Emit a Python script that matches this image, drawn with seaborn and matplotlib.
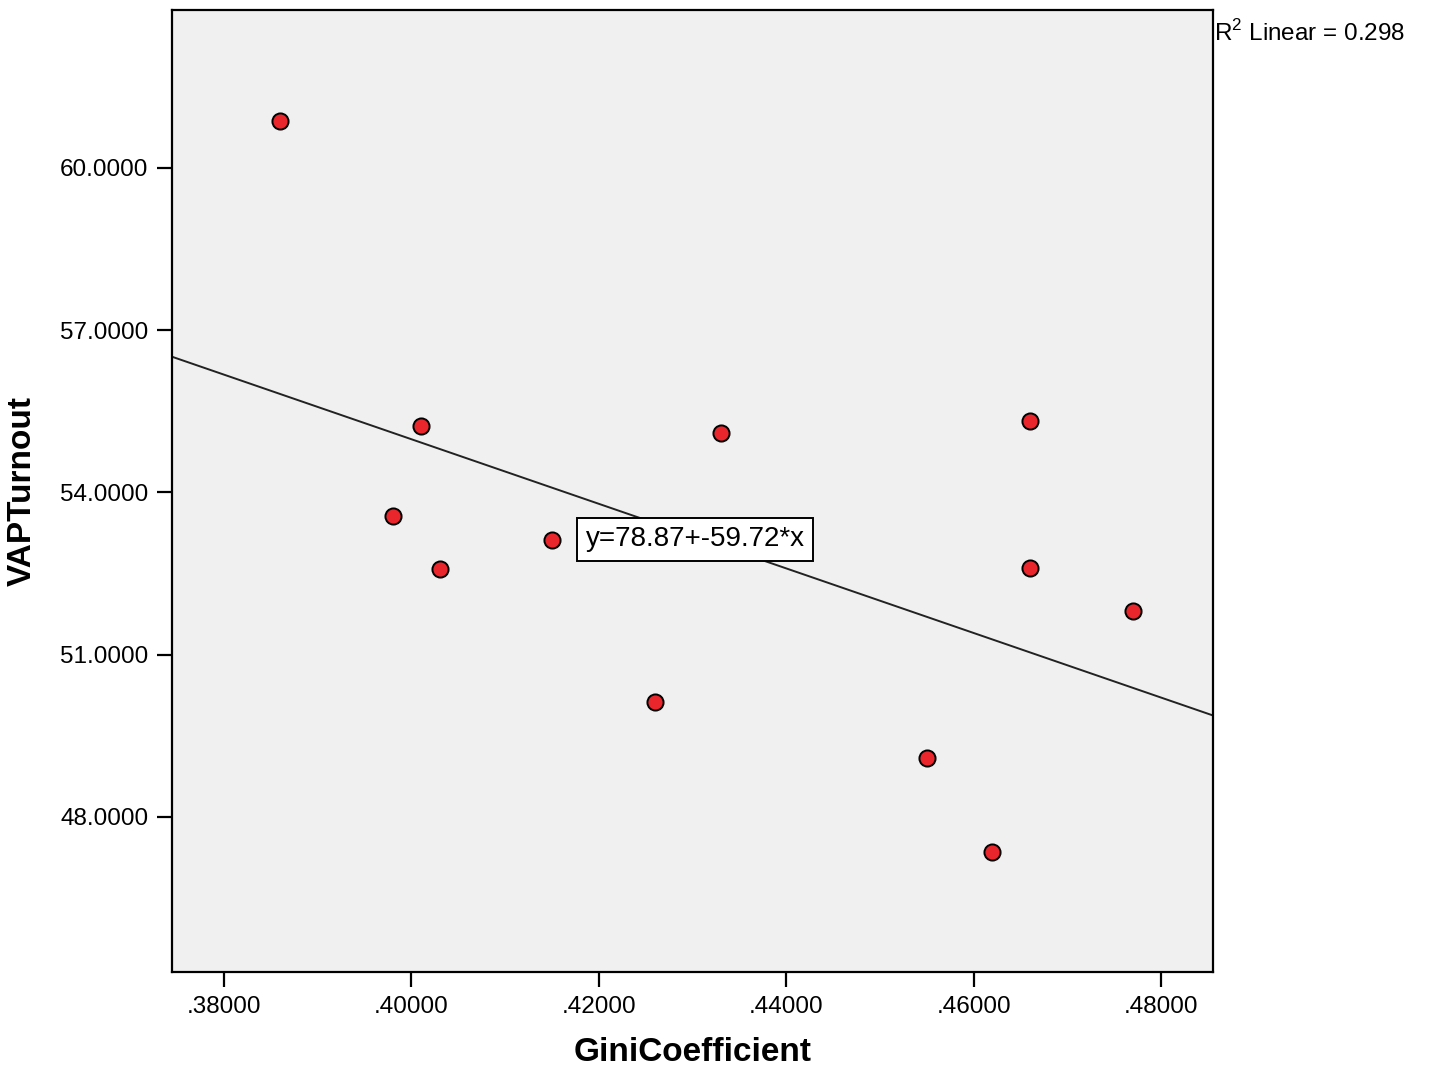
import matplotlib
matplotlib.use("Agg")
import matplotlib.pyplot as plt
import matplotlib.ticker as mticker
import numpy as np
import pandas as pd
import seaborn as sns

# Data
gini = [0.386, 0.401, 0.398, 0.403, 0.415, 0.426, 0.433, 0.466, 0.466, 0.477, 0.455, 0.462]
turnout = [60.87, 55.23, 53.57, 52.59, 53.12, 50.13, 55.10, 55.32, 52.60, 51.81, 49.09, 47.35]
intercept = 78.87
slope = -59.72
r2 = 0.298
xticks = [0.38, 0.40, 0.42, 0.44, 0.46, 0.48]
yticks = [48, 51, 54, 57, 60]

df = pd.DataFrame({"GiniCoefficient": gini, "VAPTurnout": turnout})

sns.set_style("ticks", {"axes.facecolor": "#f0f0f0", "axes.edgecolor": "black",
                        "text.color": "black", "axes.labelcolor": "black"})
plt.rcParams["font.family"] = ["Liberation Sans", "DejaVu Sans"]
plt.rcParams["mathtext.fontset"] = "custom"
plt.rcParams["mathtext.rm"] = "Liberation Sans"

fig = plt.figure(figsize=(14.31, 10.76), dpi=100)
ax = fig.add_axes([0.1202, 0.0967, 0.7275, 0.894])

xlim = (0.37445, 0.48555)
ylim = (45.13, 62.92)

# regression line from the stated coefficients
xl = np.array(xlim)
line_df = pd.DataFrame({"x": xl, "y": intercept + slope * xl})
sns.lineplot(data=line_df, x="x", y="y", ax=ax, color="#222222", linewidth=1.4)

sns.scatterplot(data=df, x="GiniCoefficient", y="VAPTurnout", ax=ax,
                color="#e8262b", edgecolor="black", linewidth=1.4, s=135, zorder=3)

ax.set_xlim(*xlim)
ax.set_ylim(*ylim)
ax.set_xticks(xticks)
ax.set_yticks(yticks)
ax.xaxis.set_major_formatter(mticker.FuncFormatter(lambda v, p: f"{v:.5f}".lstrip("0")))
ax.yaxis.set_major_formatter(mticker.FormatStrFormatter("%.4f"))
ax.tick_params(axis="both", direction="out", length=11, width=1.6, labelsize=17.5,
               colors="black", pad=6)
for s in ax.spines.values():
    s.set_linewidth(1.6)

ax.set_xlabel("GiniCoefficient", fontsize=24, fontweight="bold", labelpad=14, color="black")
ax.set_ylabel("VAPTurnout", fontsize=24, fontweight="bold", labelpad=16, color="black")

ax.text(1.001, 0.99, r"R$^2$ Linear = 0.298", transform=ax.transAxes, fontsize=17.5,
        ha="left", va="top", color="black")
ax.text(0.4186, 53.13, f"y={intercept:.2f}+{slope:.2f}*x", fontsize=20, ha="left", va="center",
        color="black",
        bbox=dict(boxstyle="square,pad=0.3", facecolor="white", edgecolor="black", linewidth=1.4),
        zorder=4)

fig.savefig("out.png", dpi=100)
